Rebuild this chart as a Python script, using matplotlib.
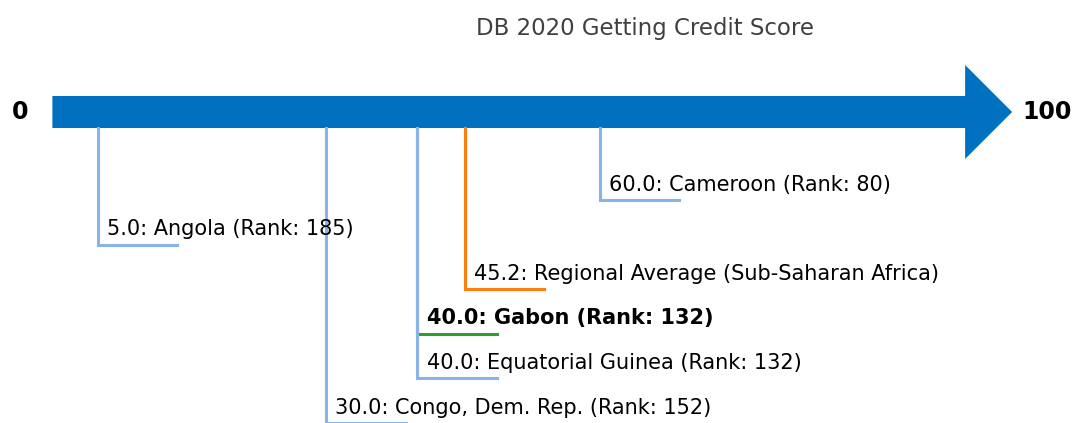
import matplotlib.pyplot as plt
from matplotlib.patches import FancyArrow

# Data
title = "DB 2020 Getting Credit Score"
names = ["Gabon", "Cameroon", "Angola", "Regional Average (Sub-Saharan Africa)",
         "Equatorial Guinea", "Congo, Dem. Rep."]
scores = [40.0, 60.0, 5.0, 45.2, 40.0, 30.0]
ranks = [132, 80, 185, None, 132, 152]
levels = [4, 1, 2, 3, 5, 6]
colors = ["#2ca02c", "#8ab4e8", "#8ab4e8", "#ff7f0e", "#8ab4e8", "#8ab4e8"]
bold = [True, False, False, False, False, False]

fig = plt.figure(figsize=(10.72, 4.23), dpi=100)
ax = fig.add_axes([0, 0, 1, 1])
ax.set_xlim(-5.74, 111.71)
ax.set_ylim(423, 0)
ax.axis("off")

# main arrow 0 -> 100
ax.add_patch(FancyArrow(0, 112, 105.15, 0, width=32, head_width=94, head_length=5.15,
                        length_includes_head=True, color="#0070c0", lw=0))
ax.text(-3.5, 112, "0", ha="center", va="center", fontsize=17, fontweight="bold")
ax.text(109.0, 112, "100", ha="center", va="center", fontsize=17, fontweight="bold")
ax.text(64.9, 28, title, ha="center", va="center", fontsize=16.5, color="#404040")

seg = 8.7
for name, s, r, lv, c, b in zip(names, scores, ranks, levels, colors, bold):
    y = 155.4 + 44.6 * lv
    ax.plot([s, s, s + seg], [128, y, y], color=c, lw=2.2, solid_joinstyle="miter")
    label = f"{s:.1f}: {name}" if r is None else f"{s:.1f}: {name} (Rank: {r})"
    ax.text(s + 1, y - 9.5, label, ha="left", va="baseline", fontsize=15,
            fontweight="bold" if b else "normal")

fig.savefig("out.png", dpi=100)
